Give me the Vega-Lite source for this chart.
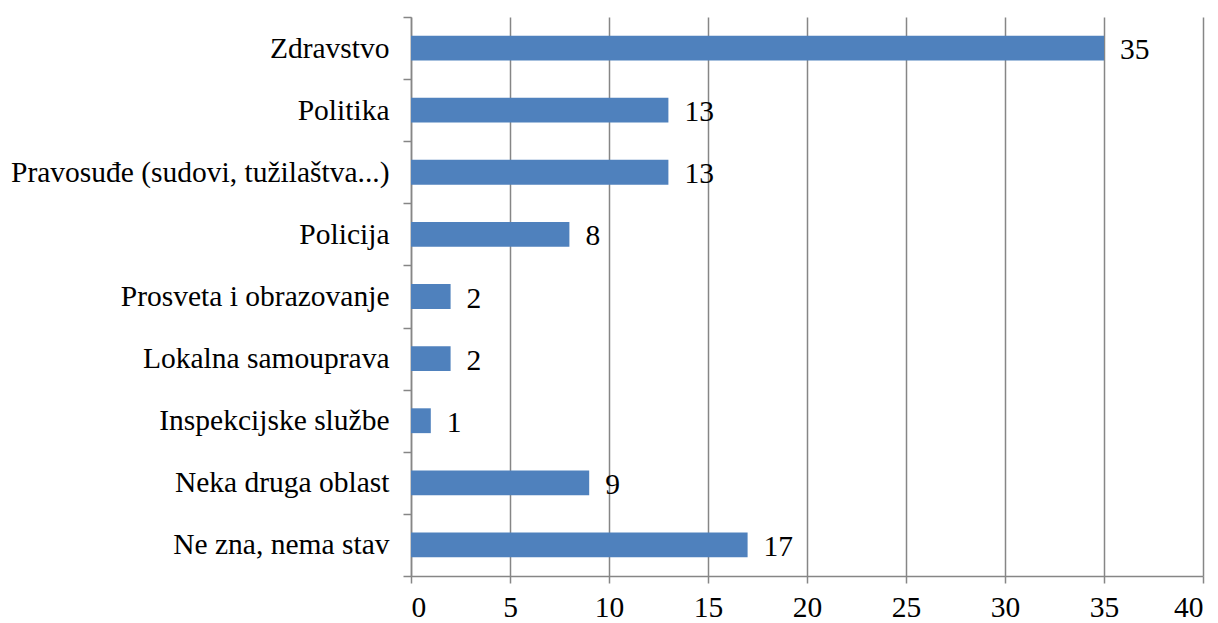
{
  "$schema": "https://vega.github.io/schema/vega-lite/v6.json",
  "width": 792,
  "height": 559,
  "autosize": {"type": "none"},
  "padding": {"left": 411, "top": 17, "right": 15, "bottom": 47},
  "background": "white",
  "config": {"view": {"stroke": null}, "font": "Liberation Serif"},
  "data": {"values": [
    {"cat": "Zdravstvo", "v": 35},
    {"cat": "Politika", "v": 13},
    {"cat": "Pravosuđe (sudovi, tužilaštva...)", "v": 13},
    {"cat": "Policija", "v": 8},
    {"cat": "Prosveta i obrazovanje", "v": 2},
    {"cat": "Lokalna samouprava", "v": 2},
    {"cat": "Inspekcijske službe", "v": 1},
    {"cat": "Neka druga oblast", "v": 9},
    {"cat": "Ne zna, nema stav", "v": 17}
  ]},
  "encoding": {
    "y": {"field": "cat", "type": "nominal", "sort": null,
      "scale": {"paddingInner": 0, "paddingOuter": 0},
      "axis": {"title": null, "labelFont": "Liberation Serif", "labelFontSize": 29.5, "labelColor": "black",
        "domainColor": "#868686", "domainWidth": 1.5, "tickColor": "#868686", "tickWidth": 1.5, "tickSize": 8,
        "tickBand": "extent", "labelPadding": 14, "grid": false, "labelLimit": 600}},
    "x": {"field": "v", "type": "quantitative",
      "scale": {"domain": [0, 40], "nice": false},
      "axis": {"title": null, "values": [0,5,10,15,20,25,30,35,40], "labelFont": "Liberation Serif", "labelFontSize": 29.5,
        "labelColor": "black", "domainColor": "#868686", "domainWidth": 1.5, "tickColor": "#868686", "tickWidth": 1.5,
        "tickSize": 7, "labelPadding": 10, "grid": true, "gridColor": "#868686", "gridWidth": 1.5, "gridOpacity": 1}}
  },
  "layer": [
    {"mark": {"type": "bar", "color": "#4F81BD", "height": {"band": 0.4}}},
    {"mark": {"type": "text", "align": "left", "baseline": "middle", "dx": 16, "dy": 2, "fontSize": 29.5, "font": "Liberation Serif", "color": "black"},
     "encoding": {"text": {"field": "v", "type": "quantitative"}}}
  ]
}
